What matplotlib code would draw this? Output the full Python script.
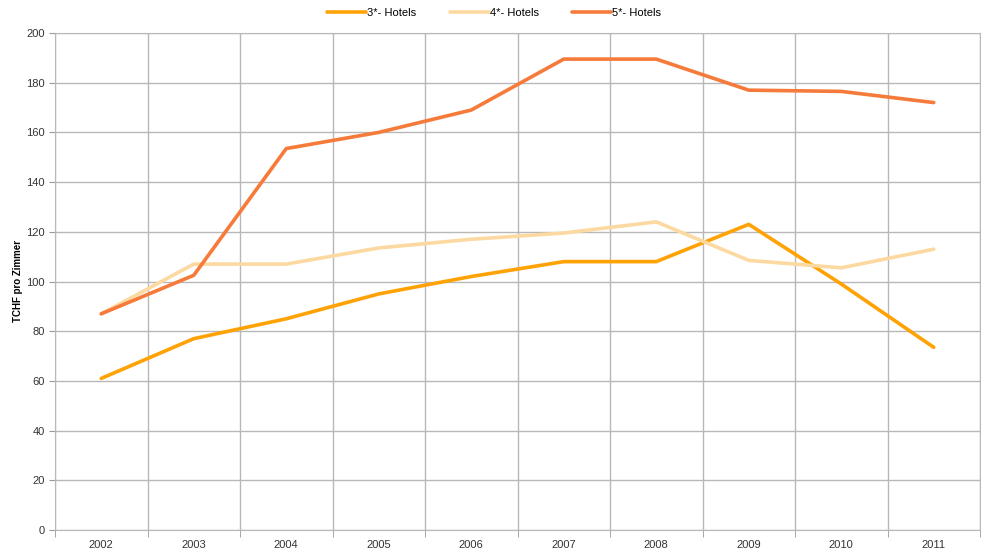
import matplotlib
matplotlib.use("Agg")
import matplotlib.pyplot as plt
import numpy as np

years = ["2002", "2003", "2004", "2005", "2006", "2007", "2008", "2009", "2010", "2011"]
hotels_3 = [61, 77, 85, 95, 102, 108, 108, 123, 99, 73.5]
hotels_4 = [87, 107, 107, 113.5, 117, 119.5, 124, 108.5, 105.5, 113]
hotels_5 = [87, 102.5, 153.5, 160, 169, 189.5, 189.5, 177, 176.5, 172]

plt.rcParams['font.family'] = ['Liberation Sans', 'DejaVu Sans']

fig = plt.figure(figsize=(9.81, 5.51), dpi=100)
ax = fig.add_axes([55 / 981, 21 / 551, 925 / 981, 497 / 551])

x = np.arange(len(years))
ax.plot(x, hotels_3, color='#FFA206', lw=2.6, label="3*- Hotels", solid_capstyle='round')
ax.plot(x, hotels_4, color='#FDD9A2', lw=2.6, label="4*- Hotels", solid_capstyle='round')
ax.plot(x, hotels_5, color='#F67B3A', lw=2.6, label="5*- Hotels", solid_capstyle='round')

ax.set_xlim(-0.5, len(years) - 0.5)
ax.set_ylim(0, 200)
ax.set_yticks(np.arange(0, 201, 20))
ax.set_xticks(x)
ax.set_xticklabels(years)
ax.set_xticks(np.arange(-0.5, len(years), 1), minor=True)
ax.tick_params(axis='x', which='major', length=0, labelsize=8, colors='#333333', pad=7)
ax.tick_params(axis='x', which='minor', length=5, color='#999999')
ax.tick_params(axis='y', length=4, color='#999999', labelsize=8, labelcolor='#333333')
ax.grid(True, axis='x', which='minor', color='#B8B8B8', lw=1)
ax.grid(True, axis='y', which='major', color='#B8B8B8', lw=1)
ax.set_axisbelow(True)
for s in ax.spines.values():
    s.set_color('#B8B8B8')

ax.set_ylabel("TCHF pro Zimmer", fontsize=7, fontweight='bold')
ax.yaxis.set_label_coords(-32 / 925, 0.5)

ax.legend(loc='center', bbox_to_anchor=(0.475, 1.0 + 20 / 497), ncol=3, frameon=False,
          fontsize=8, handlelength=3.5, handletextpad=0.1, columnspacing=3)

fig.savefig("out.png", dpi=100)
